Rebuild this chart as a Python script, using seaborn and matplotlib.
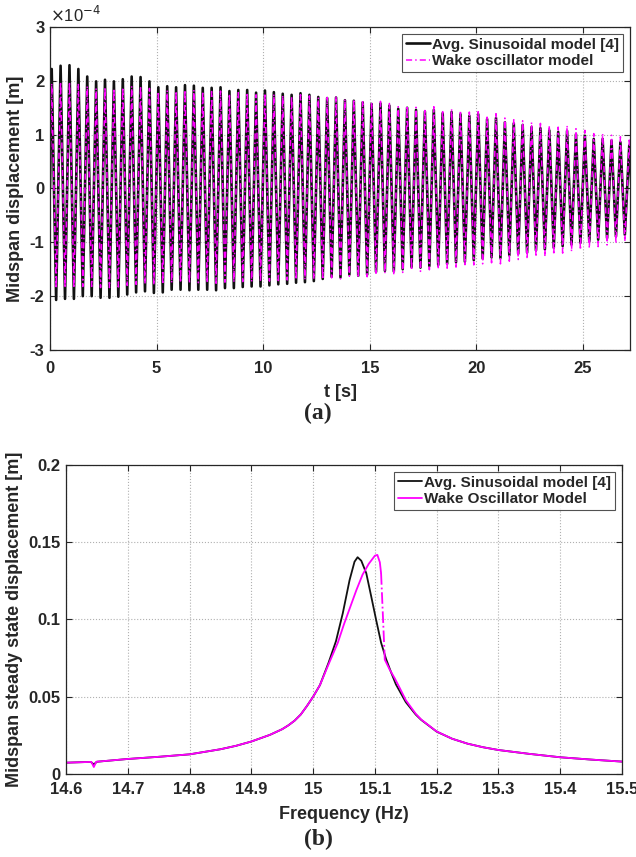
import numpy as np
import pandas as pd
import matplotlib
matplotlib.use("Agg")
import matplotlib.pyplot as plt
import seaborn as sns
from matplotlib.ticker import FuncFormatter, MultipleLocator

sns.set_theme(style="ticks")
plt.rcParams["font.family"] = ["Liberation Sans", "DejaVu Sans"]

# === (a) Zeitverlauf: Spitzenwerte je sichtbarem Zyklus (Einheit 1e-4 m) ===
periode = 0.4167      # sichtbare Periode im Bild [s]
t_start = 0.08

sin_oben = [2.22, 2.28, 2.29, 2.22, 2.08, 1.99, 2.02, 1.99, 2.03, 2.08, 2.07, 1.99,
            1.88, 1.90, 1.88, 1.92, 1.91, 1.87, 1.87, 1.88, 1.81, 1.83, 1.83, 1.78,
            1.82, 1.79, 1.76, 1.74, 1.77, 1.74, 1.70,
            1.68, 1.69, 1.64, 1.63, 1.60, 1.57, 1.58, 1.54, 1.48, 1.50, 1.46, 1.43,
            1.46, 1.40, 1.42, 1.38, 1.35, 1.38, 1.29, 1.31, 1.23, 1.21, 1.18, 1.14,
            1.12, 1.08, 1.05, 1.07, 1.01, 0.98, 0.92, 0.92, 0.89, 0.86, 0.80]
sin_unten = [-2.07, -2.05, -2.05, -2.00, -2.00, -2.03, -2.03, -2.01, -1.97, -1.93,
             -1.91, -1.94, -1.93, -1.88, -1.88, -1.89, -1.88, -1.88, -1.89, -1.85,
             -1.85, -1.83, -1.82, -1.82, -1.80, -1.78, -1.77, -1.75, -1.74, -1.72,
             -1.68, -1.64, -1.65, -1.60, -1.62, -1.60, -1.55, -1.53, -1.54, -1.50,
             -1.46, -1.47, -1.44, -1.42, -1.40, -1.37, -1.36, -1.33, -1.30, -1.28,
             -1.29, -1.24, -1.21, -1.19, -1.15, -1.13, -1.10, -1.07, -1.04, -1.01,
             -0.98, -0.95, -0.92, -0.89, -0.86, -0.84]
wake_oben = [1.95, 1.98, 1.98, 1.95, 1.90, 1.86, 1.88, 1.86, 1.88, 1.90, 1.90, 1.86,
             1.80, 1.82, 1.81, 1.83, 1.83, 1.80, 1.80, 1.81, 1.76, 1.78, 1.78, 1.74,
             1.77, 1.75, 1.73, 1.71, 1.74, 1.72, 1.69,
             1.69, 1.71, 1.66, 1.66, 1.63, 1.60, 1.62, 1.58, 1.52, 1.54, 1.51, 1.48,
             1.52, 1.46, 1.48, 1.45, 1.42, 1.46, 1.36, 1.39, 1.31, 1.29, 1.26, 1.23,
             1.21, 1.17, 1.14, 1.17, 1.11, 1.08, 1.02, 1.02, 0.99, 0.96, 0.90]
wake_unten = [-1.86, -1.85, -1.85, -1.82, -1.82, -1.84, -1.84, -1.83, -1.80, -1.78,
              -1.77, -1.79, -1.78, -1.75, -1.75, -1.76, -1.75, -1.75, -1.76, -1.74,
              -1.74, -1.73, -1.73, -1.73, -1.72, -1.71, -1.70, -1.69, -1.69, -1.68,
              -1.69, -1.66, -1.68, -1.63, -1.66, -1.64, -1.60, -1.58, -1.60, -1.56,
              -1.52, -1.54, -1.51, -1.50, -1.48, -1.46, -1.45, -1.42, -1.40, -1.38,
              -1.40, -1.35, -1.32, -1.31, -1.27, -1.26, -1.23, -1.20, -1.17, -1.14,
              -1.11, -1.08, -1.05, -1.02, -0.98, -0.96]

# === (b) Frequenzgang ===
f_sin = [14.60, 14.64, 14.645, 14.65, 14.70, 14.75, 14.80, 14.85, 14.875, 14.90,
         14.93, 14.95, 14.96, 14.97, 14.98, 14.99, 15.00, 15.011, 15.025, 15.037,
         15.048, 15.059, 15.067, 15.072, 15.078, 15.086, 15.094, 15.102, 15.110,
         15.118, 15.126, 15.134, 15.15, 15.166, 15.175, 15.20, 15.225, 15.25,
         15.275, 15.30, 15.35, 15.40, 15.45, 15.50]
d_sin = [0.0073, 0.0078, 0.0062, 0.0079, 0.0097, 0.0111, 0.0127, 0.0160, 0.0182,
         0.0210, 0.0253, 0.0290, 0.0315, 0.0345, 0.0385, 0.0440, 0.0500, 0.0575,
         0.0720, 0.0860, 0.1040, 0.1255, 0.1374, 0.1403, 0.1380, 0.1300, 0.1150,
         0.0997, 0.0850, 0.0745, 0.0660, 0.0580, 0.0465, 0.0385, 0.0350, 0.0274,
         0.0228, 0.0196, 0.0173, 0.0155, 0.0130, 0.0108, 0.0093, 0.0080]

f_wake = [14.60, 14.641, 14.645, 14.649, 14.70, 14.75, 14.80, 14.85, 14.875, 14.90,
          14.93, 14.95, 14.96, 14.97, 14.98, 14.99, 15.00, 15.011, 15.025, 15.04,
          15.05, 15.06, 15.07, 15.08, 15.09, 15.10, 15.104, 15.108, 15.110]
d_wake = [0.0073, 0.0078, 0.0045, 0.0079, 0.0097, 0.0111, 0.0127, 0.0160, 0.0182,
          0.0210, 0.0253, 0.0290, 0.0315, 0.0345, 0.0385, 0.0440, 0.0500, 0.0575,
          0.0710, 0.0850, 0.0970, 0.1080, 0.1190, 0.1290, 0.1360, 0.1413, 0.1418,
          0.1370, 0.1300]
f_sprung = [15.110, 15.116]
d_sprung = [0.1300, 0.0740]
f_wake2 = [15.116, 15.124, 15.132, 15.14, 15.15, 15.166, 15.175, 15.20, 15.225,
           15.25, 15.275, 15.30, 15.35, 15.40, 15.45, 15.50]
d_wake2 = [0.0740, 0.0675, 0.0620, 0.0558, 0.0478, 0.0390, 0.0352, 0.0275, 0.0228,
           0.0196, 0.0173, 0.0155, 0.0130, 0.0108, 0.0093, 0.0080]


def zickzack(oben, unten):
    tk = t_start + periode * np.arange(len(oben))
    t = [0.0]
    y = [0.0]
    for i in range(len(oben)):
        t += [tk[i], tk[i] + periode / 2]
        y += [oben[i], unten[i]]
    return pd.DataFrame({"t": t, "y": np.array(y) * 1e-4})


df_sin = zickzack(sin_oben, sin_unten)
df_wake = zickzack(wake_oben, wake_unten)

dunkel = "#262626"
schwarz = "#111111"
magenta = "#ff00ff"

fig = plt.figure(figsize=(6.36, 8.57), dpi=100)
ax1 = fig.add_axes([0.0786, 0.5916, 0.912, 0.3769])
ax2 = fig.add_axes([0.1038, 0.0969, 0.8742, 0.3605])

sns.lineplot(data=df_sin, x="t", y="y", sort=False, estimator=None, ax=ax1,
             color=schwarz, lw=1.9, label="Avg. Sinusoidal model [4]")
sns.lineplot(data=df_wake, x="t", y="y", sort=False, estimator=None, ax=ax1,
             color=magenta, lw=1.1, label="Wake oscillator model")
ax1.lines[1].set_linestyle((0, (4, 2, 1, 2)))
ax1.set_xlim(0, 27.2)
ax1.set_ylim(-3e-4, 3e-4)
ax1.xaxis.set_major_locator(MultipleLocator(5))
ax1.yaxis.set_major_locator(MultipleLocator(1e-4))
ax1.yaxis.set_major_formatter(FuncFormatter(lambda v, p: f"{v / 1e-4:.0f}"))
ax1.set_xlabel("t [s]", fontsize=13, fontweight="bold", color=dunkel, labelpad=6)
ax1.set_ylabel("Midspan displacement [m]", fontsize=13, fontweight="bold",
               color=dunkel, labelpad=4)
ax1.text(0.0, 1.006, r"$\times$10$^{-4}$", transform=ax1.transAxes, fontsize=12,
         color=dunkel, ha="left", va="bottom")

sns.lineplot(x=f_sin, y=d_sin, sort=False, estimator=None, ax=ax2, color=schwarz,
             lw=1.3, label="Avg. Sinusoidal model [4]")
sns.lineplot(x=f_wake, y=d_wake, sort=False, estimator=None, ax=ax2, color=magenta,
             lw=1.3, label="Wake Oscillator Model")
ax2.plot(f_sprung, d_sprung, color=magenta, lw=1.3, linestyle="-.")
ax2.plot(f_wake2, d_wake2, color=magenta, lw=1.3)
ax2.set_xlim(14.6, 15.5)
ax2.set_ylim(0, 0.2)
ax2.xaxis.set_major_locator(MultipleLocator(0.1))
ax2.yaxis.set_major_locator(MultipleLocator(0.05))
ax2.xaxis.set_major_formatter(FuncFormatter(lambda v, p: f"{round(v, 2):g}"))
ax2.yaxis.set_major_formatter(FuncFormatter(lambda v, p: f"{round(v, 3):g}"))
ax2.set_xlabel("Frequency (Hz)", fontsize=13, fontweight="bold", color=dunkel,
               labelpad=6)
ax2.set_ylabel("Midspan steady state displacement [m]", fontsize=13,
               fontweight="bold", color=dunkel, labelpad=4)

for ax, xpad in ((ax1, 8), (ax2, 6)):
    ax.grid(True, linestyle=":", color="#b0b0b0", lw=0.8)
    ax.tick_params(direction="in", length=4, width=0.8, color=dunkel,
                   top=True, right=True)
    ax.tick_params(axis="x", pad=xpad)
    ax.tick_params(axis="y", pad=4)
    for lab in ax.get_xticklabels() + ax.get_yticklabels():
        lab.set_fontsize(12)
        lab.set_fontweight("bold")
        lab.set_color(dunkel)
    for s in ax.spines.values():
        s.set_visible(True)
        s.set_color(dunkel)
        s.set_linewidth(0.9)
    leg = ax.legend(loc="upper right", fontsize=11, frameon=True, fancybox=False,
                    handlelength=1.6, handletextpad=0.15, borderpad=0.25,
                    labelspacing=0.15, borderaxespad=0.45)
    leg.get_frame().set_edgecolor(dunkel)
    leg.get_frame().set_linewidth(0.8)
    for txt in leg.get_texts():
        txt.set_fontweight("bold")
        txt.set_color(dunkel)

fig.text(0.5, 0.518, "(a)", ha="center", va="center", fontsize=17,
         fontweight="bold", family="Liberation Serif")
fig.text(0.5, 0.020, "(b)", ha="center", va="center", fontsize=17,
         fontweight="bold", family="Liberation Serif")

fig.savefig("out.png", dpi=100)
